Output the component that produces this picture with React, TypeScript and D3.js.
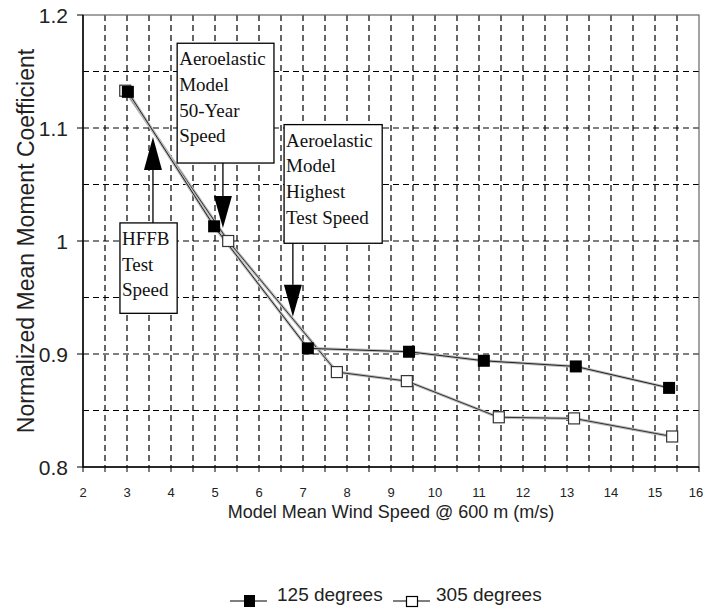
import React from 'react';
import * as d3 from 'd3';

// wind speed (m/s) and normalized mean moment coefficient
const speed125 = [3.02, 4.98, 7.11, 9.41, 11.11, 13.2, 15.32];
const coef125 = [1.132, 1.013, 0.905, 0.902, 0.894, 0.889, 0.87];
const speed305 = [2.96, 5.3, 7.77, 9.36, 11.45, 13.16, 15.39];
const coef305 = [1.133, 1.0, 0.884, 0.876, 0.844, 0.843, 0.827];

const xTickLabels = [2, 3, 4, 5, 6, 7, 8, 9, 10, 11, 12, 13, 14, 15, 16];
const yTickLabels = [0.8, 0.9, 1, 1.1, 1.2];

// annotation boxes, in data units
const notes = [
  { lines: ['Aeroelastic', 'Model', '50-Year', 'Speed'], x0: 4.14, x1: 6.34, yTop: 1.175, yBot: 1.069, ax: 5.18, tip: 1.0115 },
  { lines: ['Aeroelastic', 'Model', 'Highest', 'Test Speed'], x0: 6.57, x1: 8.8, yTop: 1.103, yBot: 0.998, ax: 6.77, tip: 0.933 },
  { lines: ['HFFB', 'Test', 'Speed'], x0: 2.84, x1: 4.14, yTop: 1.016, yBot: 0.936, ax: 3.59, tip: 1.092 },
];

const W = 705;
const H = 609;
const m = { left: 83, right: 699, top: 15, bottom: 467 };
const sans = '"Liberation Sans", Arial, sans-serif';
const serif = '"Liberation Serif", "Times New Roman", serif';

export default function App() {
  const x = d3.scaleLinear().domain([2, 16]).range([m.left, m.right]);
  const y = d3.scaleLinear().domain([0.8, 1.2]).range([m.bottom, m.top]);

  const vGrid = d3.range(2.5, 16, 0.5);
  const hGrid = d3.range(0.85, 1.2, 0.05);

  const line = d3.line<[number, number]>().x(d => x(d[0])).y(d => y(d[1]));
  const pts125 = speed125.map((s, i) => [s, coef125[i]] as [number, number]);
  const pts305 = speed305.map((s, i) => [s, coef305[i]] as [number, number]);

  const sq = 12;

  return (
    <svg width={W} height={H} style={{ position: 'absolute', left: 0, top: 0, background: '#fff' }}>
      {/* grid */}
      {vGrid.map(v => (
        <line key={'v' + v} x1={x(v)} x2={x(v)} y1={m.top} y2={m.bottom} stroke="#000" strokeWidth={1.2} strokeDasharray="6,4" />
      ))}
      {hGrid.map(v => (
        <line key={'h' + v} x1={m.left} x2={m.right} y1={y(v)} y2={y(v)} stroke="#000" strokeWidth={1.2} strokeDasharray="6,4" />
      ))}
      {/* frame */}
      <rect x={m.left} y={m.top} width={m.right - m.left} height={m.bottom - m.top} fill="none" stroke="#666" strokeWidth={1.2} />
      <line x1={m.left} x2={m.left} y1={m.top} y2={m.bottom} stroke="#000" strokeWidth={1.5} />
      <line x1={m.left} x2={m.right} y1={m.bottom} y2={m.bottom} stroke="#000" strokeWidth={1.5} />

      {/* x ticks */}
      {d3.range(2, 16.01, 0.5).map(v => (
        <line key={'xt' + v} x1={x(v)} x2={x(v)} y1={m.bottom} y2={m.bottom + 5} stroke="#000" strokeWidth={1} />
      ))}
      {xTickLabels.map(v => (
        <text key={'xl' + v} x={x(v)} dx={v === 16 ? -3 : 0} y={m.bottom + 30} textAnchor="middle" fontFamily={sans} fontSize={13} fill="#222">{v}</text>
      ))}
      {/* y ticks */}
      {yTickLabels.map(v => (
        <g key={'yt' + v}>
          <line x1={m.left - 6} x2={m.left} y1={y(v)} y2={y(v)} stroke="#000" strokeWidth={1} />
          <text x={m.left - 15} y={y(v)} dy="0.36em" textAnchor="end" fontFamily={sans} fontSize={21} fill="#222">{v === 1 ? '1' : v.toFixed(1)}</text>
        </g>
      ))}

      {/* axis titles */}
      <text x={391} y={518} textAnchor="middle" fontFamily={sans} fontSize={18} fill="#222">Model Mean Wind Speed @ 600 m (m/s)</text>
      <text transform={`translate(34,241) rotate(-90)`} textAnchor="middle" fontFamily={sans} fontSize={23} fill="#222">Normalized Mean Moment Coefficient</text>

      {/* series lines */}
      <path d={line(pts305) || ''} fill="none" stroke="#bbb" strokeWidth={3} />
      <path d={line(pts305) || ''} fill="none" stroke="#333" strokeWidth={1} />
      <path d={line(pts125) || ''} fill="none" stroke="#bbb" strokeWidth={3} />
      <path d={line(pts125) || ''} fill="none" stroke="#222" strokeWidth={1} />

      {pts305.map((p, i) => (
        <rect key={'o' + i} x={x(p[0]) - 5.5} y={y(p[1]) - 5.5} width={11} height={11} fill="#fff" stroke="#333" strokeWidth={1.2} />
      ))}
      {pts125.map((p, i) => (
        <rect key={'f' + i} x={x(p[0]) - sq / 2} y={y(p[1]) - sq / 2} width={sq} height={sq} fill="#000" />
      ))}

      {/* annotations */}
      {notes.map((n, i) => {
        const ax = x(n.ax);
        const down = n.tip < n.yBot;
        const start = down ? y(n.yBot) : y(n.yTop);
        const tip = y(n.tip);
        const base = down ? tip - 32 : tip + 33;
        return (
          <g key={'n' + i}>
            <rect x={x(n.x0)} y={y(n.yTop)} width={x(n.x1) - x(n.x0)} height={y(n.yBot) - y(n.yTop)} fill="#fff" stroke="#000" strokeWidth={1.3} />
            {n.lines.map((t, j) => (
              <text key={j} x={x(n.x0) + 2} y={y(n.yTop) + 22 + j * 25.7} fontFamily={serif} fontSize={19} fill="#111">{t}</text>
            ))}
            <line x1={ax} x2={ax} y1={start} y2={base} stroke="#000" strokeWidth={1.3} />
            <path d={`M${ax - 9},${base} L${ax + 9},${base} L${ax},${tip} Z`} fill="#000" />
          </g>
        );
      })}

      {/* legend */}
      <g fontFamily={sans} fontSize={19} fill="#222">
        <line x1={230} x2={267} y1={601} y2={601} stroke="#000" strokeWidth={1.2} />
        <rect x={244} y={595} width={11} height={12} fill="#000" />
        <text x={277} y={601}>125 degrees</text>
        <line x1={393} x2={430} y1={601} y2={601} stroke="#000" strokeWidth={1.2} />
        <rect x={406.5} y={596.5} width={11} height={10} fill="#fff" stroke="#000" strokeWidth={1.2} />
        <text x={436} y={601}>305 degrees</text>
      </g>
    </svg>
  );
}
